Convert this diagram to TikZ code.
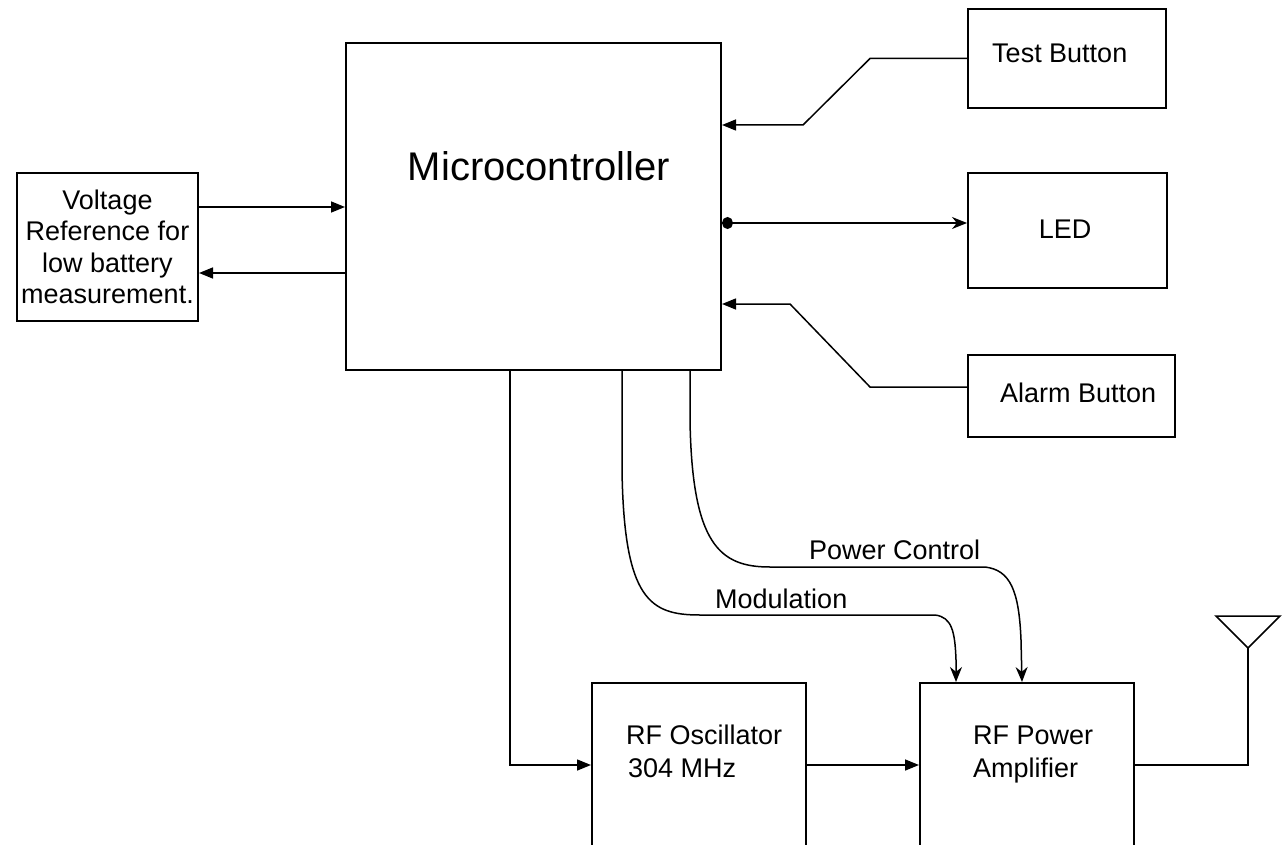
\documentclass[tikz,border=0pt]{standalone}
\usepackage{fontspec}
\setmainfont{Liberation Sans}
\usetikzlibrary{arrows.meta,positioning,calc}

\begin{document}
\begin{tikzpicture}[x=1pt,y=-1pt,
    box/.style={draw, line width=2pt, inner sep=0pt},
    conn/.style={line width=1.5pt},
    arr/.style={conn, -{Triangle[length=14pt,width=11pt]}},
    txt/.style={font=\fontsize{27}{31.5}\selectfont, inner sep=0pt}]
    \clip (0,0) rectangle (1287,845);
    % Blocks
    \node[box, minimum width=375, minimum height=327] (mcu) at (533.5,206.5) {};
    \node[box, txt, align=center, minimum width=181, minimum height=148] (volt) at (107.5,247)
        {Voltage\\Reference for\\low battery\\measurement.};
    \node[box, minimum width=198, minimum height=99] (test) at (1067,58.5) {};
    \node[box, minimum width=199, minimum height=115] (led) at (1067.5,230.5) {};
    \node[box, minimum width=207, minimum height=82] (alarm) at (1071.5,396) {};
    \node[box, minimum width=214, minimum height=214] (osc) at (699,790) {};
    \node[box, minimum width=214, minimum height=214] (pa) at (1027,790) {};
    % Labels
    \node[font=\fontsize{40}{46}\selectfont, inner sep=0pt, anchor=base] (mcutxt) at (539,181) {Microcontroller};
    \node[txt, anchor=base west] (testtxt) at (992,63) {Test Button};
    \node[txt, anchor=base] (ledtxt) at (1065,238) {LED};
    \node[txt, anchor=base west] (alarmtxt) at (1000,402) {Alarm Button};
    \node[txt, anchor=base west] (osctxt) at (626,744) {RF Oscillator};
    \node[txt, anchor=base west] (freqtxt) at (628,777) {304 MHz};
    \node[txt, anchor=base west] (patxt) at (973,744) {RF Power};
    \node[txt, anchor=base west] (amptxt) at (973,777) {Amplifier};
    % Antenna
    \coordinate (ant) at (1248,648);
    \draw[conn] (1216,616) -- (1280,616) -- (ant) -- cycle;
    % Connectors
    \draw[arr] (volt.east |- 0,207) -- (mcu.west |- 0,207);
    \draw[arr] (mcu.west |- 0,273) -- (volt.east |- 0,273);
    \draw[arr] (test.west) -- (870,58.5) -- (803,125) -- (mcu.east |- 0,125);
    \draw[conn, {Circle[length=11pt,width=12pt]}-{Stealth[length=15pt,width=12pt]}]
        (mcu.east |- 0,223) -- (led.west |- 0,223);
    \draw[arr] (alarm.west |- 0,387) -- (870,387) -- (790,304) -- (mcu.east |- 0,304);
    \draw[arr] (mcu.south -| 510,0) -- (510,765) -- (osc.west |- 0,765);
    \draw[arr] (osc.east |- 0,765) -- (pa.west |- 0,765);
    \draw[conn] (pa.east |- 0,765) -- (1248,765) -- (ant);
    % Modulation
    \draw[conn, -{Stealth[length=15pt,width=12pt]}] (mcu.south -| 622,0) -- (622,470)
        .. controls (624,600) and (650,615) .. (700,615) -- (935,615)
        .. controls (952,617) and (955,632) .. (956,660) -- (pa.north -| 956,0);
    \node[txt, anchor=base west] (modtxt) at (715,608) {Modulation};
    % Power control
    \draw[conn, -{Stealth[length=15pt,width=12pt]}] (mcu.south -| 690,0) -- (690,420)
        .. controls (692,545) and (720,567) .. (770,567) -- (985,567)
        .. controls (1010,570) and (1019,590) .. (1021,640) -- (pa.north -| 1022,0);
    \node[txt, anchor=base west] (pwrtxt) at (809,559) {Power Control};
\end{tikzpicture}
\end{document}
